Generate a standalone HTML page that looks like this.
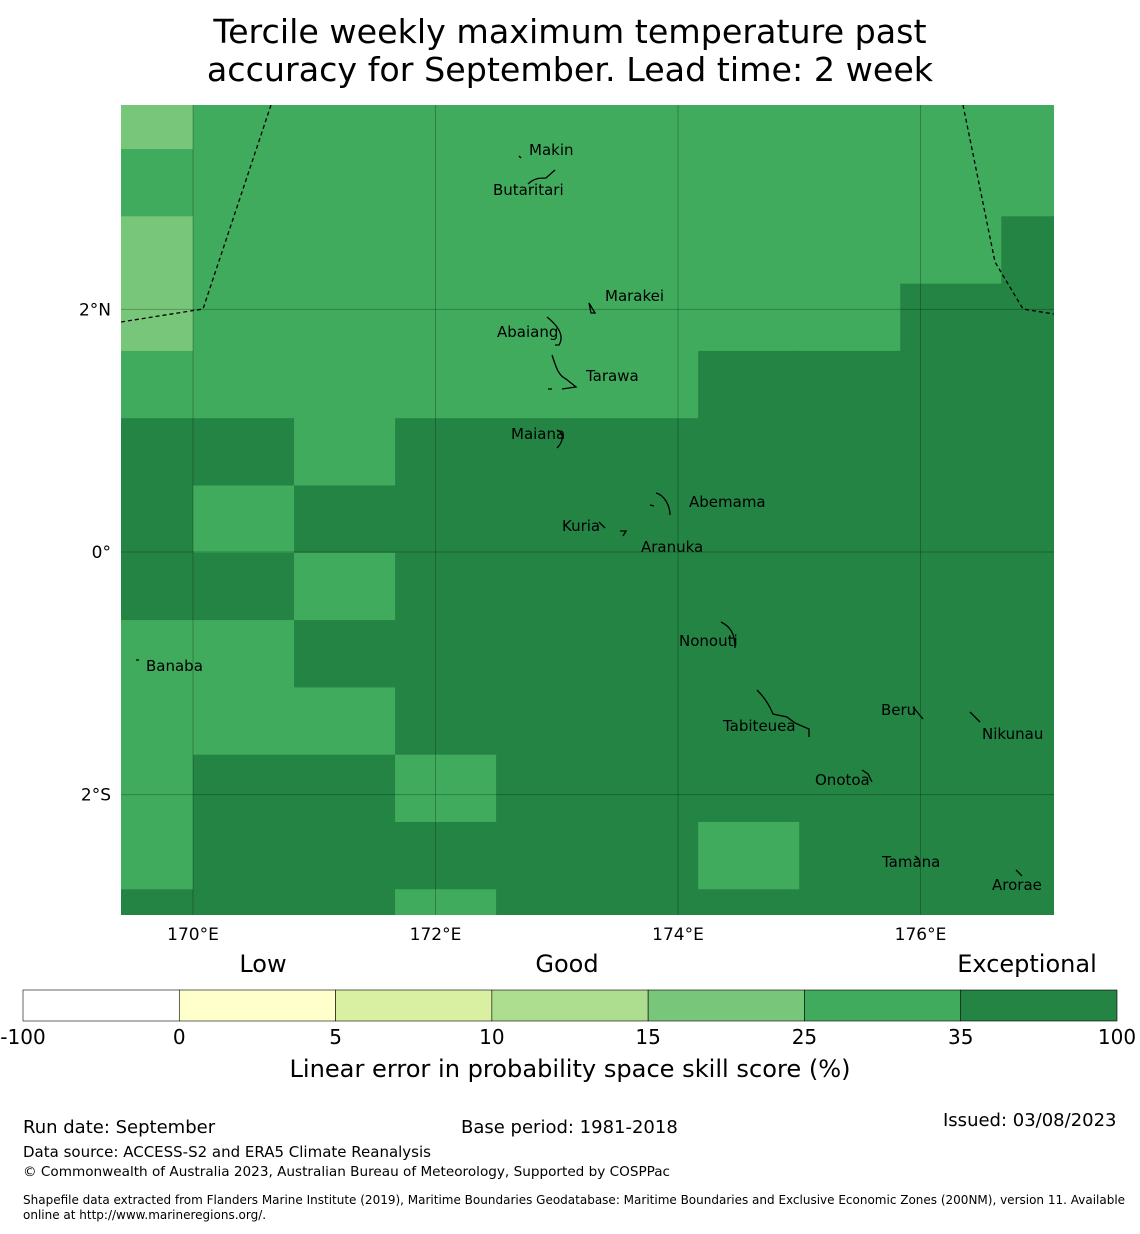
<!DOCTYPE html>
<html><head><meta charset="utf-8"><style>
body{margin:0;background:#fff;font-family:"DejaVu Sans","Liberation Sans",sans-serif}
svg text{font-family:"DejaVu Sans","Liberation Sans",sans-serif}
</style></head><body>
<svg id="chart" width="1140" height="1230" xmlns="http://www.w3.org/2000/svg">
<text x="570" y="43" font-size="33.3" text-anchor="middle">Tercile weekly maximum temperature past</text>
<text x="570" y="81" font-size="33.3" text-anchor="middle">accuracy for September. Lead time: 2 week</text>
<defs><clipPath id="mc"><rect x="121" y="105" width="933" height="810"/></clipPath></defs>
<g id="cells" clip-path="url(#mc)"></g>
<g id="grid" clip-path="url(#mc)"></g>
<g id="overlay" clip-path="url(#mc)" fill="none" stroke="#000" stroke-width="1.3">
<polyline points="121,322 203,309 271,105" stroke-dasharray="4,3"/>
<polyline points="963,105 995,262 1023,309 1054,314" stroke-dasharray="4,3"/>
<path d="M519,156 l2,2 M528,184 c6,-6 12,-6 18,-6 l9,-8 M547,317 c10,8 18,18 12,28 l-4,0 M589,303 l2,10 l4,0 z M552,355 c4,12 6,20 14,24 l10,8 l-14,2 M548,389 l4,0 M557,430 c8,3 6,12 0,18 M656,493 c8,2 14,12 14,22 M650,505 l4,1 M599,522 l6,6 M620,531 l6,0 l-3,5 M721,622 c8,4 14,10 14,26 M757,690 c6,6 12,14 16,24 l14,3 l8,6 l14,6 l0,8 M913,707 l10,12 M970,712 l10,10 M862,770 l6,4 l4,8 M915,856 l4,3 M1016,870 l6,6 M136,660 l3,0"/>
</g>
<g id="labels" font-size="15" fill="#000">
<text x="529" y="155">Makin</text>
<text x="493" y="195">Butaritari</text>
<text x="605" y="301">Marakei</text>
<text x="497" y="337">Abaiang</text>
<text x="586" y="381">Tarawa</text>
<text x="511" y="439">Maiana</text>
<text x="689" y="507">Abemama</text>
<text x="562" y="531">Kuria</text>
<text x="641" y="552">Aranuka</text>
<text x="679" y="646">Nonouti</text>
<text x="146" y="671">Banaba</text>
<text x="723" y="731">Tabiteuea</text>
<text x="881" y="715">Beru</text>
<text x="982" y="739">Nikunau</text>
<text x="815" y="785">Onotoa</text>
<text x="882" y="867">Tamana</text>
<text x="992" y="890">Arorae</text>
</g>
<g id="ticks" font-size="17"></g>
<g font-size="24" text-anchor="middle">
<text x="263" y="972">Low</text>
<text x="567" y="972">Good</text>
<text x="1027" y="972">Exceptional</text>
</g>
<g id="cbar"></g>
<text x="570" y="1077" font-size="24.1" text-anchor="middle">Linear error in probability space skill score (%)</text>
<g font-size="18">
<text x="23" y="1133">Run date: September</text>
<text x="461" y="1133">Base period: 1981-2018</text>
<text x="943" y="1126">Issued: 03/08/2023</text>
</g>
<text x="23" y="1157" font-size="15">Data source: ACCESS-S2 and ERA5 Climate Reanalysis</text>
<text x="23" y="1176" font-size="13.6">© Commonwealth of Australia 2023, Australian Bureau of Meteorology, Supported by COSPPac</text>
<text x="23" y="1204" font-size="12">Shapefile data extracted from Flanders Marine Institute (2019), Maritime Boundaries Geodatabase: Maritime Boundaries and Exclusive Economic Zones (200NM), version 11. Available</text>
<text x="23" y="1219" font-size="12">online at http://www.marineregions.org/.</text>
</svg>
<script>
const NS="http://www.w3.org/2000/svg";
// skill score per grid cell (rows north->south, cols west->east)
const skillRows=[
[20,30,30,30,30,30,30,30,30,30],
[30,30,30,30,30,30,30,30,30,30],
[20,30,30,30,30,30,30,30,30,40],
[20,30,30,30,30,30,30,30,40,40],
[30,30,30,30,30,30,40,40,40,40],
[40,40,30,40,40,40,40,40,40,40],
[40,30,40,40,40,40,40,40,40,40],
[40,40,30,40,40,40,40,40,40,40],
[30,30,40,40,40,40,40,40,40,40],
[30,30,30,40,40,40,40,40,40,40],
[30,40,40,30,40,40,40,40,40,40],
[30,40,40,40,40,40,30,40,40,40],
[40,40,40,30,40,40,40,40,40,40]];
const cellLon0=169.1667, cellDLon=0.8333, cellLat0=3.877, cellDLat=0.5548;
const boundaries=[-100,0,5,10,15,25,35,100];
const bandColors=["#ffffff","#ffffcc","#d9f0a3","#addd8e","#78c679","#41ab5d","#238443"];
const lonTicks=[170,172,174,176];
const latTicks=[2,0,-2];
const latTickLabels=["2°N","0°","2°S"];
const xs=lon=>193+(lon-170)*121.25;
const ys=lat=>552-lat*121.3;
function colorFor(v){for(let i=0;i<boundaries.length-1;i++){if(v<boundaries[i+1])return bandColors[i];}return bandColors[bandColors.length-1];}
const cells=document.getElementById('cells');
skillRows.forEach((row,r)=>row.forEach((v,c)=>{
 const x0=xs(cellLon0+c*cellDLon),x1=xs(cellLon0+(c+1)*cellDLon);
 const y0=ys(cellLat0-r*cellDLat),y1=ys(cellLat0-(r+1)*cellDLat);
 const e=document.createElementNS(NS,'rect');
 e.setAttribute('x',x0);e.setAttribute('y',y0);e.setAttribute('width',x1-x0+0.5);e.setAttribute('height',y1-y0+0.5);
 e.setAttribute('fill',colorFor(v));
 
 
 cells.appendChild(e);
}));
const grid=document.getElementById('grid'),ticks=document.getElementById('ticks');
lonTicks.forEach(l=>{
 const e=document.createElementNS(NS,'line');
 e.setAttribute('x1',xs(l));e.setAttribute('x2',xs(l));e.setAttribute('y1',105);e.setAttribute('y2',915);
 e.setAttribute('stroke','#000');e.setAttribute('stroke-opacity','0.25');
 
 
 grid.appendChild(e);
 const t=document.createElementNS(NS,'text');
 t.setAttribute('x',xs(l));t.setAttribute('y',940);t.setAttribute('text-anchor','middle');t.textContent=l+'°E';
 
 
 ticks.appendChild(t);
});
latTicks.forEach((l,i)=>{
 const e=document.createElementNS(NS,'line');
 e.setAttribute('y1',ys(l));e.setAttribute('y2',ys(l));e.setAttribute('x1',121);e.setAttribute('x2',1054);
 e.setAttribute('stroke','#000');e.setAttribute('stroke-opacity','0.25');
 
 
 grid.appendChild(e);
 const t=document.createElementNS(NS,'text');
 t.setAttribute('x',111);t.setAttribute('y',ys(l)+6);t.setAttribute('text-anchor','end');t.textContent=latTickLabels[i];
 
 
 ticks.appendChild(t);
});
const cbar=document.getElementById('cbar');
const cbX=23,cbW=1094,n=bandColors.length,segW=cbW/n;
bandColors.forEach((c,i)=>{
 const e=document.createElementNS(NS,'rect');
 e.setAttribute('x',cbX+i*segW);e.setAttribute('y',990);e.setAttribute('width',segW);e.setAttribute('height',31);
 e.setAttribute('fill',c);e.setAttribute('stroke','#000');e.setAttribute('stroke-width','0.6');
 
 
 cbar.appendChild(e);
});
boundaries.forEach((b,i)=>{
 const t=document.createElementNS(NS,'text');
 t.setAttribute('x',cbX+i*segW);t.setAttribute('y',1044);t.setAttribute('text-anchor','middle');t.setAttribute('font-size','20');t.textContent=b;
 
 
 cbar.appendChild(t);
});
</script>
</body></html>
